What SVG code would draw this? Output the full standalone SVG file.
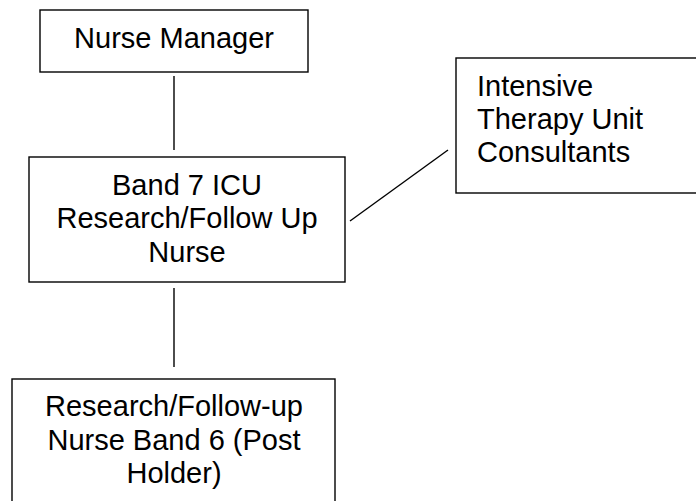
<svg xmlns="http://www.w3.org/2000/svg" width="696" height="501" viewBox="0 0 696 501">
<style>
.box{fill:#fff;stroke:#000;stroke-width:1.4}
.lbl{font-family:"Liberation Sans",Arial,sans-serif;font-size:29px;fill:#000}
.c{text-anchor:middle}
.conn{stroke:#000;stroke-width:1.4;fill:none}
</style>
<rect width="696" height="501" fill="#fff"/>
<g id="connectors">
<line class="conn" x1="174" y1="76" x2="174" y2="150"/>
<line class="conn" x1="174" y1="288" x2="174" y2="367"/>
<line class="conn" x1="350" y1="221" x2="448" y2="150"/>
</g>
<g id="nurse-manager">
<rect class="box" x="40" y="10" width="268" height="62"/>
<text class="lbl c" x="174" y="48">Nurse Manager</text>
</g>
<g id="band7">
<rect class="box" x="29" y="157" width="316" height="125"/>
<text class="lbl c" x="187" y="195">Band 7 ICU</text>
<text class="lbl c" x="187" y="228">Research/Follow Up</text>
<text class="lbl c" x="187" y="262">Nurse</text>
</g>
<g id="itu-consultants">
<rect class="box" x="456" y="58" width="250" height="135"/>
<text class="lbl" x="477" y="96">Intensive</text>
<text class="lbl" x="477" y="129">Therapy Unit</text>
<text class="lbl" x="477" y="162">Consultants</text>
</g>
<g id="band6">
<rect class="box" x="12" y="379" width="323" height="140"/>
<text class="lbl c" x="174" y="416">Research/Follow-up</text>
<text class="lbl c" x="174" y="450">Nurse Band 6 (Post</text>
<text class="lbl c" x="174" y="483">Holder)</text>
</g>
</svg>
